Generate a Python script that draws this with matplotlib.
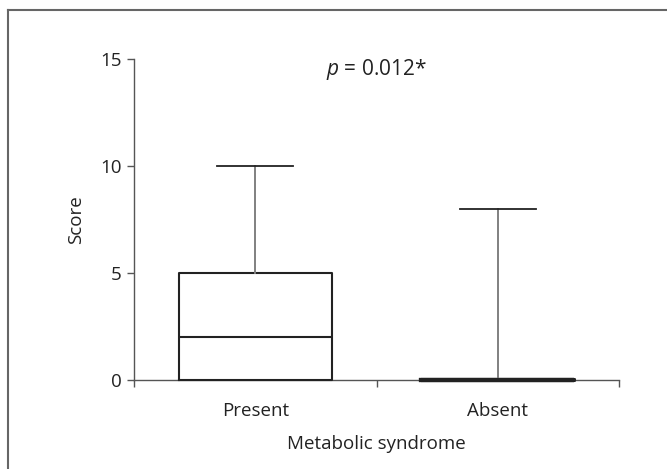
import matplotlib
matplotlib.use("Agg")
import matplotlib.pyplot as plt
from matplotlib.lines import Line2D

plt.rcParams['font.family'] = ['Open Sans', 'DejaVu Sans']
plt.rcParams['mathtext.fontset'] = 'custom'
plt.rcParams['mathtext.it'] = 'Open Sans:italic'
plt.rcParams['mathtext.rm'] = 'Open Sans'

# Box plot summary values
categories = ["Present", "Absent"]
whisker_low = [0, 0]
q1 = [0, 0]
median = [2, 0]
q3 = [5, 0]
whisker_high = [10, 8]
y_ticks = [0, 5, 10, 15]

stats = []
for i, c in enumerate(categories):
    stats.append({
        "label": c,
        "whislo": whisker_low[i],
        "q1": q1[i],
        "med": median[i],
        "q3": q3[i],
        "whishi": whisker_high[i],
        "fliers": [],
    })

fs = 13.5
fig = plt.figure(figsize=(6.67, 4.69), dpi=100)
ax = fig.add_axes([0.201, 0.19, 0.727, 0.684])

dark = "#222222"
grey = "#808080"
bp = ax.bxp(stats, positions=[1, 2], widths=0.63, showfliers=False,
            boxprops=dict(color=dark, linewidth=1.5),
            medianprops=dict(color=dark, linewidth=1.5),
            whiskerprops=dict(color=grey, linewidth=1.4),
            capprops=dict(color=dark, linewidth=1.3),
            capwidths=0.315)
# collapsed box (all quartiles at 0) shows as a heavy bar
bp["boxes"][1].set_linewidth(3)
bp["medians"][1].set_linewidth(3)
for k in ["boxes", "medians", "whiskers", "caps"]:
    for a in bp[k]:
        a.set_clip_on(False)
        a.set_zorder(3)

ax.set_xlim(0.5, 2.5)
ax.set_ylim(0, 15)
ax.set_yticks(y_ticks)
ax.set_xticks([0.5, 1.5, 2.5])
ax.set_xticklabels([])
ax.set_xticks([1, 2], minor=True)
ax.set_xticklabels(categories, minor=True)
ax.tick_params(axis="x", which="minor", length=0, pad=16, labelsize=fs, labelcolor=dark)
ax.tick_params(axis="x", which="major", length=5, color="#555555", width=1)
ax.tick_params(axis="y", length=5, color="#555555", width=1, pad=4,
               labelsize=fs, labelcolor=dark)

for s in ["top", "right"]:
    ax.spines[s].set_visible(False)
for s in ["left", "bottom"]:
    ax.spines[s].set_color("#555555")
    ax.spines[s].set_linewidth(1)

ax.set_xlabel("Metabolic syndrome", fontsize=fs, color=dark, labelpad=11)
ax.set_ylabel("Score", fontsize=fs, color=dark, labelpad=11)

ax.text(1.5, 14.5, r"$p$ = 0.012*", ha="center", va="center",
        fontsize=15, color=dark)

# outer frame (top and left only)
fig.add_artist(Line2D([8 / 667, 1], [1 - 10 / 469, 1 - 10 / 469],
                      transform=fig.transFigure, color="#666666", linewidth=1.5))
fig.add_artist(Line2D([8 / 667, 8 / 667], [0, 1 - 10 / 469],
                      transform=fig.transFigure, color="#666666", linewidth=1.5))

fig.savefig("out.png", dpi=100)
